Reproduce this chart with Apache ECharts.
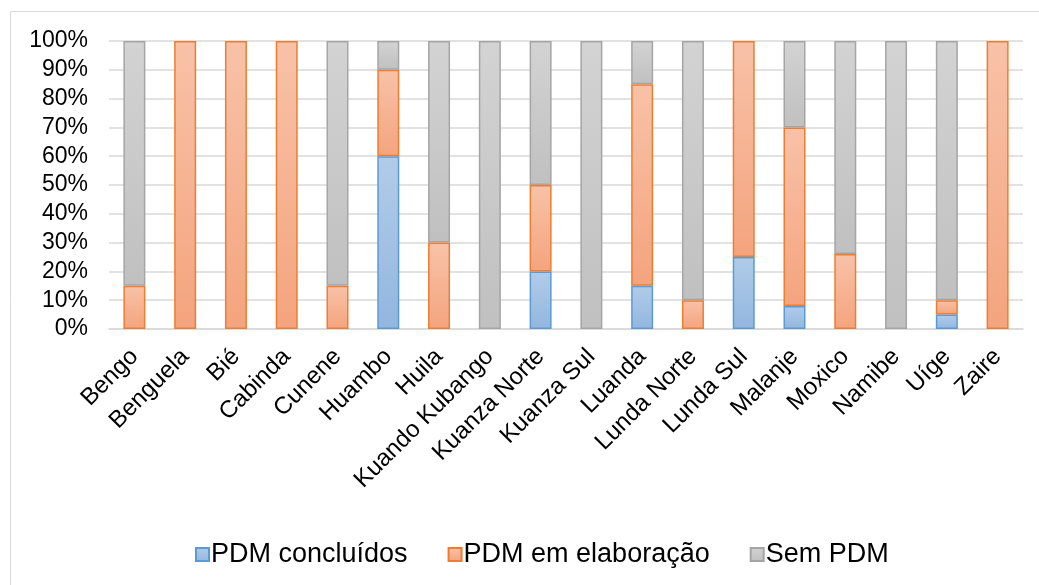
<!DOCTYPE html>
<html>
<head>
<meta charset="utf-8">
<script src="https://cdn.jsdelivr.net/npm/echarts@6/dist/echarts.min.js"></script>
<style>
  html, body { margin: 0; padding: 0; background: #fff; }
  #main { width: 1039px; height: 585px; }
</style>
</head>
<body>
<div id="main"></div>
<script>
// provincias
var provinces = ['Bengo', 'Benguela', 'Bié', 'Cabinda', 'Cunene', 'Huambo', 'Huila', 'Kuando Kubango',
  'Kuanza Norte', 'Kuanza Sul', 'Luanda', 'Lunda Norte', 'Lunda Sul', 'Malanje', 'Moxico', 'Namibe', 'Uíge', 'Zaire'];
// percentagens
var concluidos = [0, 0, 0, 0, 0, 60, 0, 0, 20, 0, 15, 0, 25, 8, 0, 0, 5, 0];
var emElaboracao = [15, 100, 100, 100, 15, 30, 30, 0, 30, 0, 70, 10, 75, 62, 26, 0, 5, 100];
var semPDM = [85, 0, 0, 0, 85, 10, 70, 100, 50, 100, 15, 90, 0, 30, 74, 100, 90, 0];
var seriesNames = ['PDM concluídos', 'PDM em elaboração', 'Sem PDM'];

var font = "'Liberation Sans', Arial, sans-serif";

function grad(top, bottom) {
  return new echarts.graphic.LinearGradient(0, 0, 0, 1, [
    { offset: 0, color: top },
    { offset: 1, color: bottom }
  ]);
}

// zeros ficam vazios para nao desenhar bordas
function clean(arr) {
  return arr.map(function (v) { return v === 0 ? null : v; });
}

function makeSeries(name, data, top, bottom, border) {
  return {
    name: name,
    type: 'bar',
    stack: 'total',
    barWidth: 22,
    data: clean(data),
    itemStyle: {
      color: grad(top, bottom),
      borderColor: border,
      borderWidth: 1.5
    }
  };
}

var chart = echarts.init(document.getElementById('main'));
chart.setOption({
  animation: false,
  textStyle: { fontFamily: font },
  graphic: [{
    type: 'rect',
    shape: { x: 10.5, y: 11.5, width: 1200, height: 800 },
    style: { fill: 'none', stroke: '#d9d9d9', lineWidth: 1 },
    silent: true
  }],
  grid: { left: 109, right: 16, top: 41, bottom: 256 },
  legend: {
    left: 190,
    top: 536,
    itemWidth: 13,
    itemHeight: 13,
    itemGap: 40,
    icon: 'rect',
    textStyle: { fontSize: 27, color: '#000', fontFamily: font, padding: [0, 0, 0, -3] },
    data: seriesNames
  },
  xAxis: {
    type: 'category',
    data: provinces,
    axisLine: { lineStyle: { color: '#d9d9d9', width: 1.5 } },
    axisTick: { show: false },
    axisLabel: {
      interval: 0,
      rotate: 45,
      margin: 24,
      fontSize: 24,
      color: '#000',
      fontFamily: font
    }
  },
  yAxis: {
    type: 'value',
    min: 0,
    max: 100,
    interval: 10,
    axisLine: { show: false },
    axisTick: { show: false },
    splitLine: { lineStyle: { color: '#d9d9d9', width: 1.5 } },
    axisLabel: {
      formatter: '{value}%',
      margin: 21,
      fontSize: 23,
      color: '#000',
      fontFamily: font
    }
  },
  series: [
    makeSeries(seriesNames[0], concluidos, '#b1cce9', '#93b6df', '#5b9bd5'),
    makeSeries(seriesNames[1], emElaboracao, '#f8c2a8', '#f4a47e', '#ed7d31'),
    makeSeries(seriesNames[2], semPDM, '#d3d3d3', '#c0c0c0', '#a5a5a5')
  ]
});
</script>
</body>
</html>
